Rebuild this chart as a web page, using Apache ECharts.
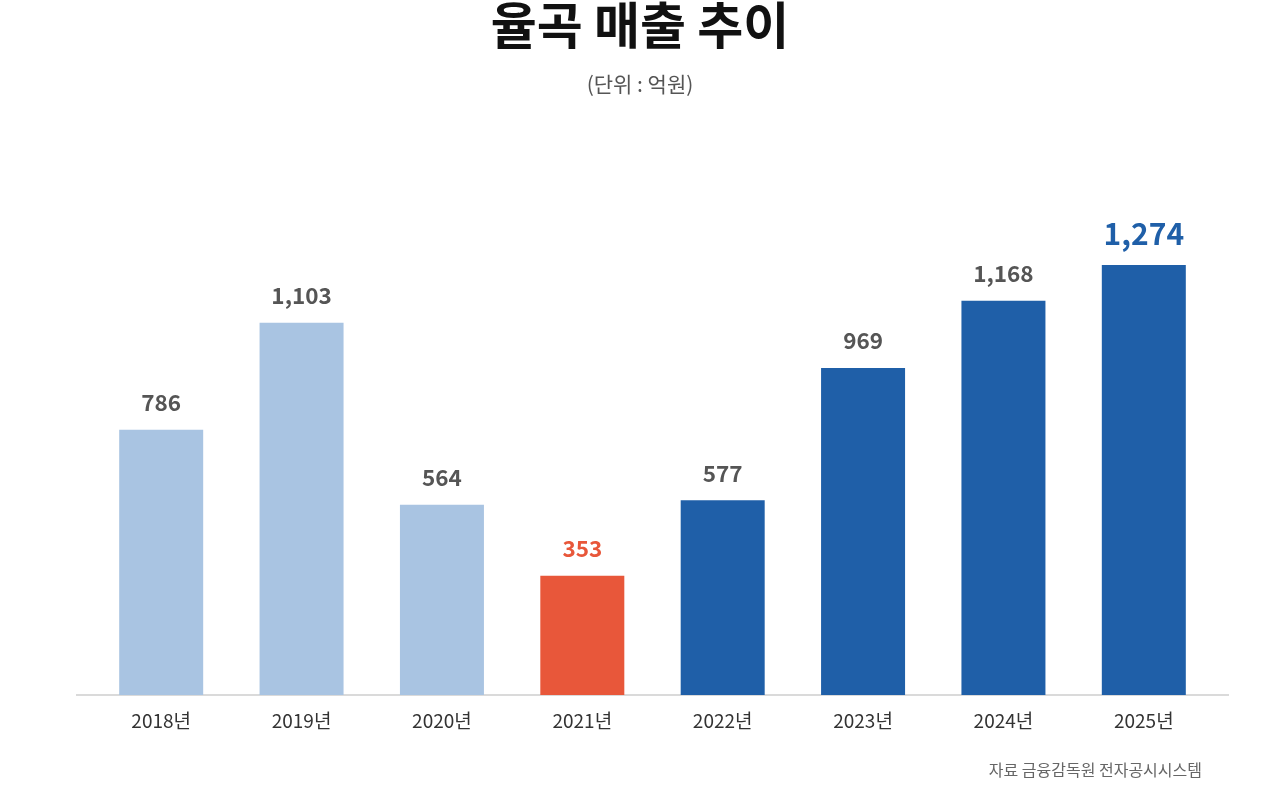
<!DOCTYPE html>
<html>
<head>
<meta charset="utf-8">
<script src="https://cdn.jsdelivr.net/npm/echarts@6/dist/echarts.min.js"></script>
<style>
    html, body { margin: 0; padding: 0; background: #fff; }
    #char1 { width: 1280px; height: 800px; }
</style>
</head>
<body>
<div id="char1"></div>
<script>
var years = ['2018년', '2019년', '2020년', '2021년', '2022년', '2023년', '2024년', '2025년'];
var sales = [786, 1103, 564, 353, 577, 969, 1168, 1274];
var barColors = ['#A9C4E2', '#A9C4E2', '#A9C4E2', '#E8573A', '#1F5FA8', '#1F5FA8', '#1F5FA8', '#1F5FA8'];
var labelColors = ['#555555', '#555555', '#555555', '#E8573A', '#555555', '#555555', '#555555', '#1F5FA8'];

var fontFamily = '"Noto Sans CJK KR", "Noto Sans", sans-serif';

var myChart = echarts.init(document.getElementById('char1'));

var tempdata = [];
for (var i = 0; i < sales.length; i++) {
    var last = i == sales.length - 1;
    tempdata.push({
        value: sales[i],
        itemStyle: { color: barColors[i] },
        label: {
            color: labelColors[i],
            fontSize: last ? 30 : 22.5,
            distance: last ? 16 : 16
        }
    });
}

option = {
    backgroundColor: '#ffffff',
    textStyle: { fontFamily: fontFamily },
    title: [
        {
            text: '율곡 매출 추이',
            left: 'center',
            top: -5,
            textStyle: { fontSize: 50, fontWeight: 'bold', color: '#111111', fontFamily: fontFamily }
        },
        {
            text: '(단위 : 억원)',
            left: 'center',
            top: 69,
            textStyle: { fontSize: 21, fontWeight: 'normal', color: '#555555', fontFamily: fontFamily }
        },
        {
            text: '자료 금융감독원 전자공시시스템',
            right: 73,
            top: 757,
            textStyle: { fontSize: 16, fontWeight: 'normal', color: '#666666', fontFamily: fontFamily }
        }
    ],
    grid: {
        left: 91,
        right: 66,
        top: 155,
        bottom: 105
    },
    xAxis: {
        type: 'category',
        data: years,
        axisLine: { show: false },
        axisTick: { show: false },
        axisLabel: {
            color: '#333333',
            fontSize: 19,
            margin: 16,
            fontFamily: fontFamily
        }
    },
    yAxis: {
        type: 'value',
        min: 0,
        max: 1600,
        show: false,
        splitLine: { show: false }
    },
    graphic: [
        {
            type: 'line',
            shape: { x1: 76, y1: 695, x2: 1229, y2: 695 },
            style: { stroke: '#DADADA', lineWidth: 2 },
            z: 0
        }
    ],
    series: [
        {
            type: 'bar',
            barWidth: 84,
            data: tempdata,
            z: 2,
            label: {
                show: true,
                position: 'top',
                fontWeight: 'bold',
                fontFamily: fontFamily,
                formatter: function (p) {
                    return p.value.toLocaleString('en-US');
                }
            }
        }
    ]
};

myChart.setOption(option);
window.addEventListener('resize', function () { myChart.resize(); })
</script>
</body>
</html>
